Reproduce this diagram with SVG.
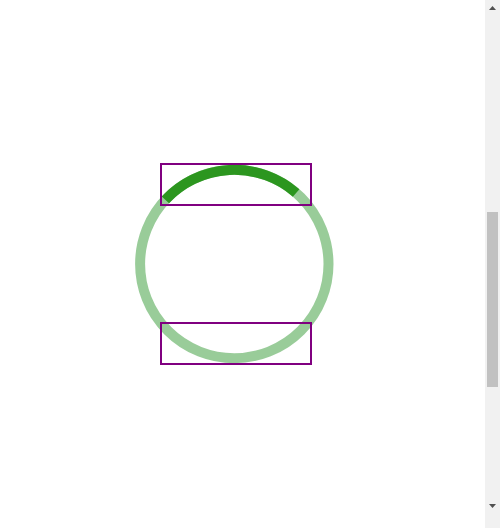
<svg xmlns="http://www.w3.org/2000/svg" width="500" height="528" viewBox="0 0 500 528">
  <style>
    .ring { fill: none; stroke: #008000; stroke-opacity: 0.4; stroke-width: 10; }
    .arc { fill: none; stroke: #2c961f; stroke-width: 10; stroke-linecap: butt; }
    .box { fill: none; stroke: #800080; stroke-width: 2; }
  </style>
  <rect x="0" y="0" width="500" height="528" fill="#ffffff"/>
  <g id="ring">
    <circle class="ring" cx="234.3" cy="264" r="94.2"/>
  </g>
  <g id="arc">
    <path class="arc" d="M165.4,199.8 A94.2,94.2 0 0 1 296.1,192.9"/>
  </g>
  <g id="box-top">
    <rect class="box" x="161" y="164" width="150" height="41"/>
  </g>
  <g id="box-bottom">
    <rect class="box" x="161" y="323" width="150" height="41"/>
  </g>
  <g id="scrollbar">
    <rect x="485" y="0" width="15" height="528" fill="#f1f1f1"/>
    <rect x="487" y="212" width="11" height="175" fill="#c1c1c1"/>
    <polygon points="489,10 496,10 492.5,6" fill="#505050"/>
    <polygon points="489,504 496,504 492.5,508" fill="#505050"/>
  </g>
</svg>
